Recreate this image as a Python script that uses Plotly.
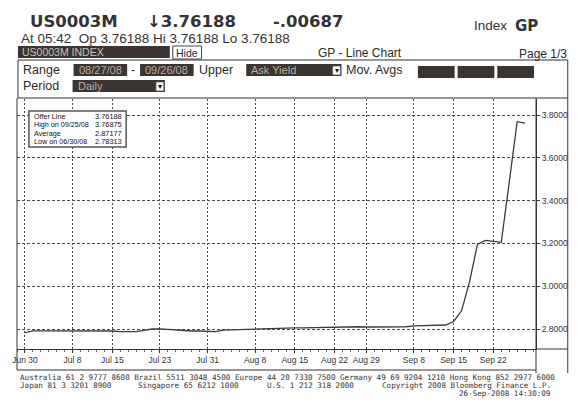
import plotly.graph_objects as go

# ---------------- data ----------------
dates = [
    "2008-06-30", "2008-07-01", "2008-07-02", "2008-07-03", "2008-07-04",
    "2008-07-07", "2008-07-08", "2008-07-09", "2008-07-10", "2008-07-11",
    "2008-07-14", "2008-07-15", "2008-07-16", "2008-07-17", "2008-07-18",
    "2008-07-21", "2008-07-22", "2008-07-23", "2008-07-24", "2008-07-25",
    "2008-07-28", "2008-07-29", "2008-07-30", "2008-07-31", "2008-08-01",
    "2008-08-04", "2008-08-05", "2008-08-06", "2008-08-07", "2008-08-08",
    "2008-08-11", "2008-08-12", "2008-08-13", "2008-08-14", "2008-08-15",
    "2008-08-18", "2008-08-19", "2008-08-20", "2008-08-21", "2008-08-22",
    "2008-08-26", "2008-08-27", "2008-08-28", "2008-08-29",
    "2008-09-01", "2008-09-02", "2008-09-03", "2008-09-04", "2008-09-05",
    "2008-09-08", "2008-09-09", "2008-09-10", "2008-09-11", "2008-09-12",
    "2008-09-15", "2008-09-16", "2008-09-17", "2008-09-18", "2008-09-19",
    "2008-09-22", "2008-09-23", "2008-09-24", "2008-09-25", "2008-09-26",
]
ask_yield = [
    2.78313, 2.79125, 2.79125, 2.79125, 2.79375,
    2.79375, 2.79375, 2.79250, 2.79063, 2.79125,
    2.79125, 2.79063, 2.78750, 2.78625, 2.78813,
    2.79313, 2.80000, 2.80063, 2.79813, 2.79250,
    2.79063, 2.79063, 2.79063, 2.78875, 2.78813,
    2.79500, 2.79625, 2.79875, 2.80000, 2.80063,
    2.80250, 2.80250, 2.80375, 2.80375, 2.80500,
    2.80500, 2.80625, 2.80625, 2.80813, 2.81000,
    2.81000, 2.81063, 2.81063, 2.80938,
    2.80938, 2.81000, 2.81063, 2.81063, 2.81063,
    2.81438, 2.81563, 2.81625, 2.81750, 2.81875,
    2.83500, 2.88500, 3.02000, 3.19500, 3.21400,
    3.20800, 3.20500, 3.48500, 3.76875, 3.76188,
]
tick_dates = ["2008-06-30", "2008-07-08", "2008-07-15", "2008-07-23", "2008-07-31",
              "2008-08-08", "2008-08-15", "2008-08-22", "2008-08-29", "2008-09-08",
              "2008-09-15", "2008-09-22"]
tick_labels = ["Jun 30", "Jul 8", "Jul 15", "Jul 23", "Jul 31", "Aug 8", "Aug 15",
               "Aug 22", "Aug 29", "Sep 8", "Sep 15", "Sep 22"]
y_ticks = [2.8, 3.0, 3.2, 3.4, 3.6, 3.8]

stats_labels = ["Offer Line", "High on 09/25/08", "Average", "Low on 06/30/08"]
stats_values = ["3.76188", "3.76875", "2.87177", "2.78313"]

# ---------------- layout helpers ----------------
W, H = 582, 413
L, R, T, B = 13, 46, 99, 64
PW, PH = W - L - R, H - T - B


def px(x):
    return (x - L) / PW


def py(y):
    return (H - B - y) / PH


DARK = "#3b3431"
INK = "#2a2a2a"

shapes = []
annotations = []


def rect(x0, y0, x1, y1, fill=None, line="#333", lw=1):
    shapes.append(dict(type="rect", xref="paper", yref="paper",
                       x0=px(x0), x1=px(x1), y0=py(y1), y1=py(y0),
                       fillcolor=fill if fill else "rgba(0,0,0,0)",
                       line=dict(color=line, width=lw) if lw else dict(width=0),
                       layer="above"))


def hline(x0, x1, y, color="#333", lw=1):
    shapes.append(dict(type="line", xref="paper", yref="paper",
                       x0=px(x0), x1=px(x1), y0=py(y), y1=py(y),
                       line=dict(color=color, width=lw), layer="above"))


def vline(x, y0, y1, color="#333", lw=1):
    shapes.append(dict(type="line", xref="paper", yref="paper",
                       x0=px(x), x1=px(x), y0=py(y0), y1=py(y1),
                       line=dict(color=color, width=lw), layer="above"))


def text(x, y, s, size=12, family="Liberation Sans", color=INK, anchor="left"):
    annotations.append(dict(xref="paper", yref="paper", x=px(x), y=py(y),
                            text=s, showarrow=False, xanchor=anchor, yanchor="middle",
                            font=dict(size=size, family=family, color=color)))


# ---------------- header ----------------
text(70, 22, "<b>US0003M</b>", 16.5, "DejaVu Sans", "#333", "center")
text(189, 22, "<b>↓3.76188</b>", 16.5, "DejaVu Sans", "#333", "center")
text(307, 22, "<b>-.00687</b>", 16.5, "DejaVu Sans", "#333", "center")
text(472, 26, "Index", 13.5, "Liberation Sans", "#333")
text(513, 26, "<b>GP</b>", 15, "DejaVu Sans", "#333")
text(15, 38, "At 05:42  Op 3.76188 Hi 3.76188 Lo 3.76188", 13.5, "Liberation Sans", "#333")

rect(14, 46, 167, 58, fill=DARK, lw=0)
text(16, 52, "US0003M INDEX", 10.5, "Liberation Sans", "#c9c2bb")
rect(170, 46, 199, 59, fill="white", line="#444")
text(184.5, 52.5, "Hide", 10.5, "Liberation Sans", INK, "center")
text(359, 53, "GP - Line Chart", 12, "Liberation Sans", INK, "center")
text(543, 54, "Page 1/3", 12, "Liberation Sans", INK, "center")

# control box
rect(14, 60, 568, 98, line="#333")
text(17, 70, "Range", 12.5, "Liberation Sans", INK)
rect(70, 64, 124, 76, fill=DARK, lw=0)
text(97, 70, "08/27/08", 11, "Liberation Sans", "#b9b0a8", "center")
text(130, 70, "-", 12, "Liberation Sans", INK, "center")
rect(137, 64, 191, 76, fill=DARK, lw=0)
text(164, 70, "09/26/08", 11, "Liberation Sans", "#b9b0a8", "center")
text(194, 70, "Upper", 12.5, "Liberation Sans", INK)
rect(244, 64, 340, 76, fill=DARK, lw=0)
text(247, 70, "Ask Yield", 11, "Liberation Sans", "#b9b0a8")
rect(331, 66, 339, 75, fill="white", line="#555", lw=0.8)
text(335, 70.5, "▾", 8, "DejaVu Sans", "#111", "center")
text(343, 70, "Mov. Avgs", 12.5, "Liberation Sans", INK)
for x0 in (417, 457, 497):
    rect(x0, 66, x0 + 37, 78, fill=DARK, lw=0)
text(17, 86, "Period", 12.5, "Liberation Sans", INK)
rect(69, 80, 162, 92, fill=DARK, lw=0)
text(72, 86, "Daily", 11, "Liberation Sans", "#b9b0a8")
rect(153, 82, 161, 91, fill="white", line="#555", lw=0.8)
text(157, 86.5, "▾", 8, "DejaVu Sans", "#111", "center")

# chart frame
vline(13, 98, 370)
vline(568, 98, 373)
vline(536, 98, 373)
hline(13, 536, 370)
hline(536, 568, 349)

# stats box
rect(25, 111, 123, 147, fill="white", line="#555", lw=1.5)
for i, (lab, val) in enumerate(zip(stats_labels, stats_values)):
    yy = 116.5 + i * 8.4
    text(28, yy, lab, 7.2, "Liberation Sans", "#111")
    text(121, yy, val, 7.4, "Liberation Sans", "#111", "right")

# footer
FOOT = "DejaVu Sans Mono"
text(14, 377, "Australia 61 2 9777 8600 Brazil 5511 3048 4500 Europe 44 20 7330 7500 Germany 49 69 9204 1210 Hong Kong 852 2977 6000",
     7.6, FOOT, "#333")
text(14, 385, "Japan 81 3 3201 8900", 7.6, FOOT, "#333")
text(133, 385, "Singapore 65 6212 1000", 7.6, FOOT, "#333")
text(263, 385, "U.S. 1 212 318 2000", 7.6, FOOT, "#333")
text(553, 385, "Copyright 2008 Bloomberg Finance L.P.", 7.6, FOOT, "#333", "right")
text(553, 393, "26-Sep-2008 14:30:09", 7.6, FOOT, "#333", "right")

# ---------------- figure ----------------
x_pos = list(range(len(dates)))
tickvals = [dates.index(d) for d in tick_dates]

fig = go.Figure()
fig.add_trace(go.Scatter(x=x_pos, y=ask_yield, mode="lines",
                         customdata=dates,
                         line=dict(color="#3a3a3a", width=1.3),
                         hovertemplate="%{customdata}: %{y:.5f}<extra></extra>",
                         showlegend=False))

fig.update_layout(
    width=W, height=H,
    margin=dict(l=L, r=R, t=T, b=B, pad=0),
    paper_bgcolor="white", plot_bgcolor="white",
    shapes=shapes, annotations=annotations,
    xaxis=dict(range=[-1.0, (536 - 21) / 8.0], tickmode="array",
               tickvals=tickvals, ticktext=tick_labels,
               showgrid=True, gridcolor="#4a4a4a", gridwidth=1, griddash="2px,2px",
               ticks="outside", ticklen=3, tickcolor="#333",
               showline=True, linecolor="#333", linewidth=1, zeroline=False,
               tickfont=dict(size=8.5, family="Liberation Sans", color="#333"),
               minor=dict(tickmode="linear", tick0=0, dtick=1, ticks="outside",
                          ticklen=2, tickcolor="#666", showgrid=False)),
    yaxis=dict(side="right", range=[2.8 - 20 / 214, 3.8 + 16 / 214],
               tickmode="array", tickvals=y_ticks, tickformat=".4f",
               showgrid=True, gridcolor="#4a4a4a", gridwidth=1, griddash="3px,2px",
               ticks="outside", ticklen=3, tickcolor="#333",
               showline=True, linecolor="#333", linewidth=1, zeroline=False,
               tickfont=dict(size=8.5, family="Liberation Sans", color="#333")),
)

fig.write_html("out.html",
               config={"displayModeBar": False},
               post_script="document.body.style.margin='0';document.body.style.overflow='hidden';")
